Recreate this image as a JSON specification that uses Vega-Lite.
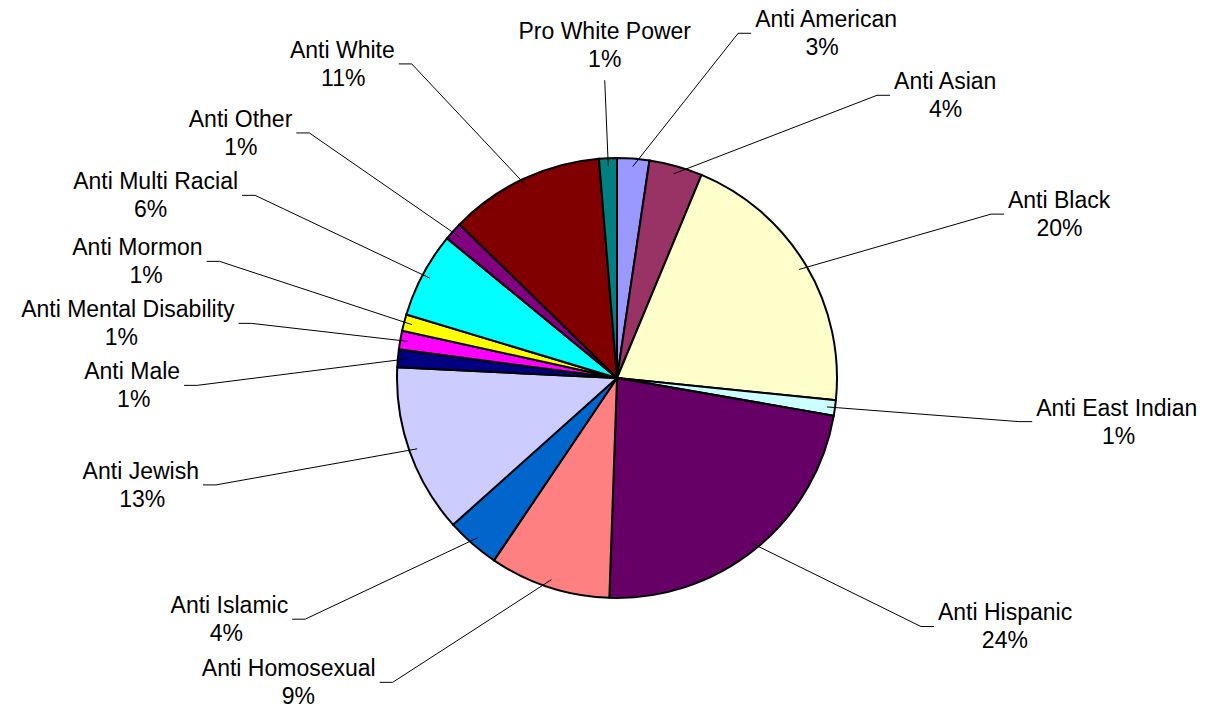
{
  "$schema": "https://vega.github.io/schema/vega-lite/v6.json",
  "width": 1174,
  "height": 690,
  "autosize": {"type": "none"},
  "padding": {"left": 30, "top": 33, "right": 5, "bottom": 0},
  "background": "white",
  "config": {"view": {"stroke": null}, "font": "Liberation Sans"},
  "data": {
    "values": [
      {"cat": "Anti American", "value": 2.36, "pct": "3%", "order": 1},
      {"cat": "Anti Asian", "value": 3.92, "pct": "4%", "order": 2},
      {"cat": "Anti Black", "value": 20.33, "pct": "20%", "order": 3},
      {"cat": "Anti East Indian", "value": 1.14, "pct": "1%", "order": 4},
      {"cat": "Anti Hispanic", "value": 22.81, "pct": "24%", "order": 5},
      {"cat": "Anti Homosexual", "value": 8.89, "pct": "9%", "order": 6},
      {"cat": "Anti Islamic", "value": 3.94, "pct": "4%", "order": 7},
      {"cat": "Anti Jewish", "value": 12.39, "pct": "13%", "order": 8},
      {"cat": "Anti Male", "value": 1.31, "pct": "1%", "order": 9},
      {"cat": "Anti Mental Disability", "value": 1.36, "pct": "1%", "order": 10},
      {"cat": "Anti Mormon", "value": 1.22, "pct": "1%", "order": 11},
      {"cat": "Anti Multi Racial", "value": 6.28, "pct": "6%", "order": 12},
      {"cat": "Anti Other", "value": 1.36, "pct": "1%", "order": 13},
      {"cat": "Anti White", "value": 11.39, "pct": "11%", "order": 14},
      {"cat": "Pro White Power", "value": 1.31, "pct": "1%", "order": 15}
    ]
  },
  "transform": [
    {"window": [{"op": "sum", "field": "value", "as": "cum"}], "sort": [{"field": "order", "order": "ascending"}], "frame": [null, 0]},
    {"joinaggregate": [{"op": "sum", "field": "value", "as": "total"}]},
    {"calculate": "2*PI*(datum.cum - datum.value/2)/datum.total", "as": "mid"},
    {"calculate": "abs(sin(datum.mid)) < 0.05 ? 0 : (sin(datum.mid) > 0 ? 1 : -1)", "as": "side"},
    {"calculate": "datum.side == 0 ? 298*cos(datum.mid) : 320*cos(datum.mid)", "as": "y0"},
    {"window": [{"op": "row_number", "as": "rk"}], "groupby": ["side"], "sort": [{"field": "y0", "order": "descending"}]},
    {"calculate": "datum.y0 + 62*datum.rk", "as": "zd"},
    {"window": [{"op": "min", "field": "zd", "as": "zdmin"}], "groupby": ["side"], "sort": [{"field": "y0", "order": "descending"}], "frame": [null, 0]},
    {"window": [{"op": "max", "field": "zd", "as": "zdmax"}], "groupby": ["side"], "sort": [{"field": "y0", "order": "ascending"}], "frame": [null, 0]},
    {"calculate": "(datum.zdmin + datum.zdmax)/2 - 62*datum.rk", "as": "ay"},
    {"calculate": "length(datum.cat)*10.3", "as": "w"},
    {"calculate": "datum.side == 0 ? 298*sin(datum.mid) : (datum.side > 0 ? min(420*sqrt(max(0, 1 - pow(datum.ay/360, 2))), 567 - datum.w) : max(-420*sqrt(max(0, 1 - pow(datum.ay/360, 2))), -592 + datum.w))", "as": "ax"},
    {"calculate": "212*sin(datum.mid)", "as": "ix"},
    {"calculate": "212*cos(datum.mid)", "as": "iy"},
    {"calculate": "datum.ax + datum.side*13", "as": "tx"},
    {"calculate": "datum.ax + datum.side*17", "as": "nx"},
    {"calculate": "datum.nx + datum.side*datum.w/2", "as": "px"},
    {"calculate": "datum.side == 0 ? datum.ay + 41 : datum.ay + 6", "as": "ly"}
  ],
  "layer": [
    {
      "mark": {"type": "arc", "outerRadius": 220, "stroke": "black", "strokeWidth": 2},
      "encoding": {
        "theta": {"field": "value", "type": "quantitative", "stack": true},
        "order": {"field": "order", "type": "quantitative"},
        "color": {
          "field": "cat",
          "type": "nominal",
          "legend": null,
          "scale": {
            "domain": ["Anti American", "Anti Asian", "Anti Black", "Anti East Indian", "Anti Hispanic", "Anti Homosexual", "Anti Islamic", "Anti Jewish", "Anti Male", "Anti Mental Disability", "Anti Mormon", "Anti Multi Racial", "Anti Other", "Anti White", "Pro White Power"],
            "range": ["#9999FF", "#993366", "#FFFFCC", "#CCFFFF", "#660066", "#FF8080", "#0066CC", "#CCCCFF", "#000080", "#FF00FF", "#FFFF00", "#00FFFF", "#800080", "#800000", "#008080"]
          }
        }
      }
    },
    {
      "mark": {"type": "rule", "color": "black", "strokeWidth": 1},
      "encoding": {
        "x": {"field": "ix", "type": "quantitative", "scale": {"domain": [-587, 587], "nice": false, "zero": false}, "axis": null},
        "y": {"field": "iy", "type": "quantitative", "scale": {"domain": [-345, 345], "nice": false, "zero": false}, "axis": null},
        "x2": {"field": "ax"},
        "y2": {"field": "ay"}
      }
    },
    {
      "transform": [{"filter": "datum.side != 0"}],
      "mark": {"type": "rule", "color": "black", "strokeWidth": 1},
      "encoding": {
        "x": {"field": "ax", "type": "quantitative", "scale": {"domain": [-587, 587], "nice": false, "zero": false}, "axis": null},
        "y": {"field": "ay", "type": "quantitative", "scale": {"domain": [-345, 345], "nice": false, "zero": false}, "axis": null},
        "x2": {"field": "tx"},
        "y2": {"field": "ay"}
      }
    },
    {
      "transform": [{"filter": "datum.side > 0"}],
      "mark": {"type": "text", "align": "left", "baseline": "alphabetic", "fontSize": 23, "font": "Liberation Sans", "color": "black"},
      "encoding": {
        "x": {"field": "nx", "type": "quantitative", "scale": {"domain": [-587, 587], "nice": false, "zero": false}, "axis": null},
        "y": {"field": "ly", "type": "quantitative", "scale": {"domain": [-345, 345], "nice": false, "zero": false}, "axis": null},
        "text": {"field": "cat", "type": "nominal"}
      }
    },
    {
      "transform": [{"filter": "datum.side < 0"}],
      "mark": {"type": "text", "align": "right", "baseline": "alphabetic", "fontSize": 23, "font": "Liberation Sans", "color": "black"},
      "encoding": {
        "x": {"field": "nx", "type": "quantitative", "scale": {"domain": [-587, 587], "nice": false, "zero": false}, "axis": null},
        "y": {"field": "ly", "type": "quantitative", "scale": {"domain": [-345, 345], "nice": false, "zero": false}, "axis": null},
        "text": {"field": "cat", "type": "nominal"}
      }
    },
    {
      "transform": [{"filter": "datum.side == 0"}],
      "mark": {"type": "text", "align": "center", "baseline": "alphabetic", "fontSize": 23, "font": "Liberation Sans", "color": "black"},
      "encoding": {
        "x": {"field": "nx", "type": "quantitative", "scale": {"domain": [-587, 587], "nice": false, "zero": false}, "axis": null},
        "y": {"field": "ly", "type": "quantitative", "scale": {"domain": [-345, 345], "nice": false, "zero": false}, "axis": null},
        "text": {"field": "cat", "type": "nominal"}
      }
    },
    {
      "mark": {"type": "text", "align": "center", "baseline": "alphabetic", "dy": 28, "fontSize": 23, "font": "Liberation Sans", "color": "black"},
      "encoding": {
        "x": {"field": "px", "type": "quantitative", "scale": {"domain": [-587, 587], "nice": false, "zero": false}, "axis": null},
        "y": {"field": "ly", "type": "quantitative", "scale": {"domain": [-345, 345], "nice": false, "zero": false}, "axis": null},
        "text": {"field": "pct", "type": "nominal"}
      }
    }
  ]
}
